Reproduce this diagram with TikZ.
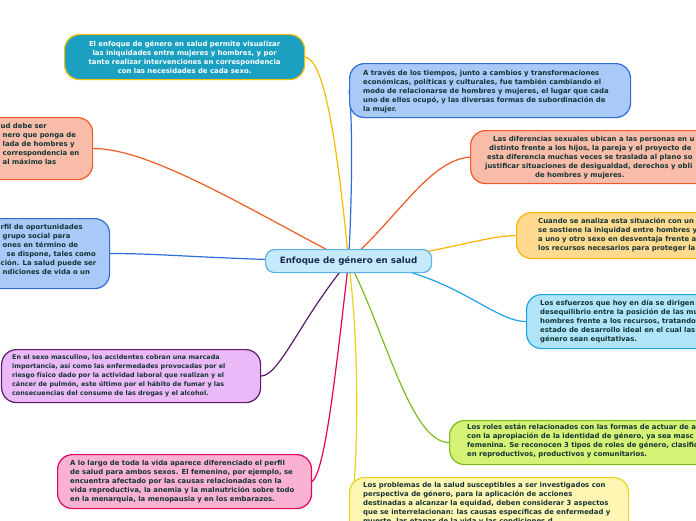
\documentclass[tikz,border=0pt]{standalone}
\usepackage{fontspec}
\setmainfont{DejaVu Sans}
\usetikzlibrary{positioning,backgrounds}

\definecolor{ink}{HTML}{143535}
\definecolor{hubink}{HTML}{1A2A50}
\definecolor{hubfill}{HTML}{C6EAFB}
\definecolor{hubline}{HTML}{5AB0E6}
\definecolor{tealfill}{HTML}{1BA0C2}
\definecolor{goldline}{HTML}{F5BC00}
\definecolor{skyfill}{HTML}{A9C9F9}
\definecolor{royalline}{HTML}{2E6CD6}
\definecolor{salmonfill}{HTML}{F8BCA8}
\definecolor{redline}{HTML}{F15A24}
\definecolor{apricotfill}{HTML}{FFDA8F}
\definecolor{amberline}{HTML}{FFB300}
\definecolor{icefill}{HTML}{B0E5F9}
\definecolor{cyanline}{HTML}{1EA5E6}
\definecolor{limefill}{HTML}{D5F176}
\definecolor{greenline}{HTML}{7DBB1C}
\definecolor{lilacfill}{HTML}{EBB9F7}
\definecolor{plumline}{HTML}{5C1A6C}
\definecolor{rosefill}{HTML}{FBB1D2}
\definecolor{magentaline}{HTML}{E5005C}
\definecolor{creamfill}{HTML}{FFF6B3}
\definecolor{lemonline}{HTML}{E8D41A}

\newcommand{\leaffont}{\fontsize{6.9}{9}\selectfont\bfseries}

\begin{document}
\begin{tikzpicture}[x=1pt,y=-1pt,
    leaf/.style={rounded corners=15pt, line width=1.2pt, inner sep=0pt, anchor=north west},
    leaftext/.style={anchor=north west, inner sep=0pt, align=left, text=ink, font=\leaffont},
    link/.style={line width=1.2pt}]
    \useasboundingbox (0,0) rectangle (696,520);
    \clip (0,0) rectangle (696,520);

    % central topic
    \node[draw=hubline, fill=hubfill, line width=1.2pt, rounded corners=9pt, anchor=north west,
          minimum width=166pt, minimum height=23pt, inner sep=0pt, text=hubink,
          font=\fontsize{8.7}{10}\selectfont\bfseries] (hub) at (265,249) {Enfoque de género en salud};

    % upper left (teal)
    \node[leaf, draw=goldline, fill=tealfill, minimum width=240pt, minimum height=45pt,
          text=white, font=\leaffont, align=center] (visual) at (64,34)
        {El enfoque de género en salud permite visualizar\\
         las iniquidades entre mujeres y hombres, y por\\
         tanto realizar intervenciones en correspondencia\\
         con las necesidades de cada sexo.};

    % right side
    \node[leaf, draw=royalline, fill=skyfill, minimum width=281pt, minimum height=54pt] (epochs) at (349,63) {};
    \node[leaftext] (epochstext) at ([shift={(14pt,-7pt)}]epochs.north west)
        {A través de los tiempos, junto a cambios y transformaciones\\
         económicas, políticas y culturales, fue también cambiando el\\
         modo de relacionarse de hombres y mujeres, el lugar que cada\\
         uno de ellos ocupó, y las diversas formas de subordinación de\\
         la mujer.};

    \node[leaf, draw=redline, fill=salmonfill, minimum width=300pt, minimum height=53pt] (differences) at (470,130) {};
    \node[leaftext] (differencestext) at ([shift={(15pt,-6pt)}]differences.north west)
        {\hspace*{8pt}Las diferencias sexuales ubican a las personas en u\\
         \hspace*{4pt}distinto frente a los hijos, la pareja y el proyecto de\\
         \hspace*{2pt}esta diferencia muchas veces se traslada al plano so\\
         justificar situaciones de desigualdad, derechos y obli\\
         \hspace*{50pt}de hombres y mujeres.};

    \node[leaf, draw=amberline, fill=apricotfill, minimum width=250pt, minimum height=46pt] (analysis) at (516,212) {};
    \node[leaftext] (analysistext) at ([shift={(22pt,-6pt)}]analysis.north west)
        {Cuando se analiza esta situación con un\\
         se sostiene la iniquidad entre hombres y\\
         a uno y otro sexo en desventaja frente a\\
         los recursos necesarios para proteger la};

    \node[leaf, draw=cyanline, fill=icefill, minimum width=250pt, minimum height=54pt] (efforts) at (526,294) {};
    \node[leaftext] (effortstext) at ([shift={(14pt,-6pt)}]efforts.north west)
        {Los esfuerzos que hoy en día se dirigen\\
         desequilibrio entre la posición de las mu\\
         hombres frente a los recursos, tratando\\
         estado de desarrollo ideal en el cual las\\
         género sean equitativas.};

    \node[leaf, draw=greenline, fill=limefill, minimum width=320pt, minimum height=44pt] (roles) at (449,420) {};
    \node[leaftext] (rolestext) at ([shift={(18pt,-4pt)}]roles.north west)
        {Los roles están relacionados con las formas de actuar de a\\
         con la apropiación de la identidad de género, ya sea masc\\
         femenina. Se reconocen 3 tipos de roles de género, clasific\\
         en reproductivos, productivos y comunitarios.};

    \node[leaf, draw=lemonline, fill=creamfill, minimum width=279pt, minimum height=80pt] (problems) at (349,477) {};
    \node[leaftext] (problemstext) at ([shift={(14pt,-5pt)}]problems.north west)
        {Los problemas de la salud susceptibles a ser investigados con\\
         perspectiva de género, para la aplicación de acciones\\
         destinadas a alcanzar la equidad, deben considerar 3 aspectos\\
         que se interrelacionan: las causas específicas de enfermedad y\\
         muerte, las etapas de la vida y las condiciones d};

    % left side
    \node[leaf, draw=redline, fill=salmonfill, minimum width=192pt, minimum height=62pt] (equity) at (-100,117) {};
    \node[leaftext] (equitytext) at (0.5,123)
        {ud debe ser\\
         \hspace*{2pt}nero que ponga de\\
         \hspace*{2pt}lada de hombres y\\
         \hspace*{2pt}correspondencia en\\
         \hspace*{2pt}al máximo las};

    \node[leaf, draw=royalline, fill=skyfill, minimum width=209pt, minimum height=70pt] (opportunities) at (-100,218) {};
    \node[leaftext] (opportunitiestext) at (0.5,224)
        {rfil de oportunidades\\
         \hspace*{2pt}grupo social para\\
         \hspace*{2pt}ones en término de\\
         \hspace*{6pt}se dispone, tales como\\
         ción. La salud puede ser\\
         \hspace*{2pt}ndiciones de vida o un};

    \node[leaf, draw=plumline, fill=lilacfill, minimum width=259pt, minimum height=53pt] (masculine) at (1,349) {};
    \node[leaftext, font=\fontsize{6.4}{9}\selectfont\bfseries] (masculinetext) at ([shift={(11pt,-5pt)}]masculine.north west)
        {En el sexo masculino, los accidentes cobran una marcada\\
         importancia, así como las enfermedades provocadas por el\\
         riesgo físico dado por la actividad laboral que realizan y el\\
         cáncer de pulmón, este último por el hábito de fumar y las\\
         consecuencias del consumo de las drogas y el alcohol.};

    \node[leaf, draw=magentaline, fill=rosefill, minimum width=254pt, minimum height=54pt] (lifespan) at (57,454) {};
    \node[leaftext] (lifespantext) at ([shift={(13pt,-6pt)}]lifespan.north west)
        {A lo largo de toda la vida aparece diferenciado el perfil\\
         de salud para ambos sexos. El femenino, por ejemplo, se\\
         encuentra afectado por las causas relacionadas con la\\
         vida reproductiva, la anemia y la malnutrición sobre todo\\
         en la menarquia, la menopausia y en los embarazos.};

    % branches, drawn under the boxes
    \begin{scope}[on background layer]
        \fill[white] (0,0) rectangle (696,520);
        \draw[link, goldline] (hub.center) .. controls (335,120) and (322,60) .. (visual.east);
        \draw[link, royalline] (hub.center) .. controls (353,180) and (352,110) .. (epochs.west);
        \draw[link, redline] (hub.center) .. controls (400,215) and (430,160) .. (differences.west);
        \draw[link, amberline] (hub.center) .. controls (440,255) and (480,236) .. (analysis.west);
        \draw[link, cyanline] (hub.center) .. controls (450,268) and (490,321) .. (efforts.west);
        \draw[link, greenline] (hub.center) .. controls (385,330) and (410,442) .. (roles.west);
        \draw[link, lemonline] (hub.center) .. controls (360,350) and (357,450) .. ([shift={(5pt,-8pt)}]problems.north west);
        \draw[link, magentaline] (hub.center) .. controls (335,380) and (325,470) .. (lifespan.east);
        \draw[link, plumline] (hub.center) .. controls (300,320) and (280,375) .. (masculine.east);
        \draw[link, royalline] (hub.center) .. controls (220,260) and (160,253) .. (opportunities.east);
        \draw[link, redline] (hub.center) .. controls (250,210) and (150,148) .. (equity.east);
    \end{scope}
\end{tikzpicture}
\end{document}
